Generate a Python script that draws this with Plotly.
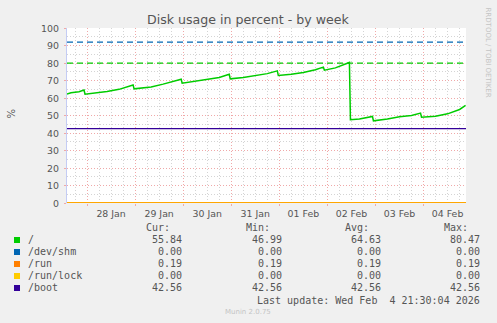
import plotly.graph_objects as go

# ---------------- data ----------------
root_times = [
    "2026-01-27 14:00", "2026-01-27 16:00", "2026-01-27 20:00", "2026-01-27 22:30", "2026-01-27 23:00",
    "2026-01-28 04:00", "2026-01-28 10:00", "2026-01-28 16:00", "2026-01-28 20:00", "2026-01-28 23:00",
    "2026-01-28 23:30", "2026-01-29 02:00", "2026-01-29 08:00", "2026-01-29 14:00", "2026-01-29 20:00",
    "2026-01-29 23:00", "2026-01-29 23:30", "2026-01-30 06:00", "2026-01-30 12:00", "2026-01-30 18:00",
    "2026-01-30 23:00", "2026-01-30 23:30", "2026-01-31 06:00", "2026-01-31 12:00", "2026-01-31 18:00",
    "2026-01-31 23:00", "2026-01-31 23:30", "2026-02-01 06:00", "2026-02-01 12:00", "2026-02-01 18:00",
    "2026-02-01 22:00", "2026-02-01 22:30", "2026-02-02 04:00", "2026-02-02 11:00", "2026-02-02 11:30",
    "2026-02-02 16:00", "2026-02-02 22:30", "2026-02-02 23:00", "2026-02-03 06:00", "2026-02-03 12:00",
    "2026-02-03 18:00", "2026-02-03 22:30", "2026-02-03 23:00", "2026-02-04 06:00", "2026-02-04 12:00",
    "2026-02-04 18:00", "2026-02-04 21:00",
]
root_values = [
    62.3, 63.0, 63.6, 64.6, 62.2,
    62.8, 63.8, 65.0, 66.6, 67.5,
    65.3, 65.7, 66.4, 68.0, 69.8,
    70.8, 68.5, 69.7, 70.8, 71.8,
    73.6, 71.0, 71.8, 73.0, 74.0,
    75.6, 72.9, 73.6, 74.6, 76.2,
    77.7, 76.0, 77.3, 80.4, 47.6,
    48.0, 49.5, 47.0, 48.0, 49.3,
    50.0, 51.4, 49.1, 49.6, 51.0,
    53.5, 55.8,
]
flat_times = ["2026-01-27 14:00", "2026-02-04 21:12"]
shm_values = [0.00, 0.00]
run_values = [0.19, 0.19]
runlock_values = [0.00, 0.00]
boot_values = [42.56, 42.56]

series_names = ["/", "/dev/shm", "/run", "/run/lock", "/boot"]
series_colors = ["#00CC00", "#0066B3", "#FF8000", "#FFCC00", "#330099"]
cur_vals = [55.84, 0.00, 0.19, 0.00, 42.56]
min_vals = [46.99, 0.00, 0.19, 0.00, 42.56]
avg_vals = [64.63, 0.00, 0.19, 0.00, 42.56]
max_vals = [80.47, 0.00, 0.19, 0.00, 42.56]

warn_values = [80, 92]
warn_colors = ["#00CC00", "#0066B3"]

y_ticks = [0, 10, 20, 30, 40, 50, 60, 70, 80, 90, 100]
x_range = ["2026-01-27 14:00", "2026-02-04 21:12"]

title_text = "Disk usage in percent - by week"
last_update = "Last update: Wed Feb  4 21:30:04 2026"

# ---------------- layout geometry ----------------
W, H = 497, 323
L, R, T, B = 67, 466, 28, 203
PW, PH = R - L, B - T


def px(x):
    return (x - L) / PW


def py(y):
    return (B - y) / PH


TXT = "#555555"
MONO = "DejaVu Sans Mono"
SANS = "DejaVu Sans"

fig = go.Figure()

all_series = [
    (root_times, root_values),
    (flat_times, shm_values),
    (flat_times, run_values),
    (flat_times, runlock_values),
    (flat_times, boot_values),
]
widths = [1.5, 1.2, 1.2, 1.2, 1.1]
for (t, v), name, col, w in zip(all_series, series_names, series_colors, widths):
    fig.add_trace(go.Scatter(x=t, y=v, mode="lines", name=name,
                             line=dict(color=col, width=w),
                             showlegend=False, hoverinfo="skip"))

for val, col in zip(warn_values, warn_colors):
    fig.add_hline(y=val, line=dict(color=col, width=1.4, dash="6px,4px"), layer="above")

shapes = []
ac = "#c4ccf4"
shapes.append(dict(type="path", xref="paper", yref="paper",
                   path=f"M {px(64)},{py(28)} L {px(70)},{py(28)} L {px(67)},{py(21.5)} Z",
                   fillcolor=ac, line=dict(width=0)))
shapes.append(dict(type="path", xref="paper", yref="paper",
                   path=f"M {px(467)},{py(200)} L {px(467)},{py(206)} L {px(473)},{py(203)} Z",
                   fillcolor=ac, line=dict(width=0)))

annotations = []
# y tick labels (as text placed on the y scale)
for v in y_ticks:
    annotations.append(dict(text=str(v), x=px(60.5), y=v, xref="paper", yref="y",
                            showarrow=False, xanchor="right", yanchor="middle",
                            font=dict(family=SANS, size=9.4, color=TXT)))
annotations.append(dict(text=title_text, x=px(248.5), y=py(19), xref="paper", yref="paper",
                        showarrow=False, xanchor="center", yanchor="middle",
                        font=dict(family=SANS, size=12.6, color=TXT)))
annotations.append(dict(text="%", x=px(10.5), y=py(114), xref="paper", yref="paper",
                        showarrow=False, textangle=-90, xanchor="center", yanchor="middle",
                        font=dict(family=SANS, size=10, color=TXT)))
annotations.append(dict(text="RRDTOOL / TOBI OETIKER", x=px(487.5), y=py(53), xref="paper", yref="paper",
                        showarrow=False, textangle=90, xanchor="center", yanchor="middle",
                        font=dict(family=SANS, size=7, color="#c4c4c4")))

header_y = 227.5
headers = ["Cur:", "Min:", "Avg:", "Max:"]
header_x = [172.3, 271.7, 371.0, 470.0]
value_x = [184.3, 284.3, 383.3, 482.3]
for h, hx in zip(headers, header_x):
    annotations.append(dict(text=h, x=px(hx), y=py(header_y), xref="paper", yref="paper",
                            showarrow=False, xanchor="right", yanchor="middle",
                            font=dict(family=MONO, size=10, color=TXT)))
row_y0 = 239.7
for i, name in enumerate(series_names):
    ry = row_y0 + 12 * i
    shapes.append(dict(type="rect", xref="paper", yref="paper",
                       x0=px(14), x1=px(20), y0=py(ry + 3.3), y1=py(ry - 2.7),
                       fillcolor=series_colors[i], line=dict(width=0)))
    annotations.append(dict(text=name, x=px(26), y=py(ry), xref="paper", yref="paper",
                            showarrow=False, xanchor="left", yanchor="middle",
                            font=dict(family=MONO, size=10, color=TXT)))
    for vals, vx in zip([cur_vals, min_vals, avg_vals, max_vals], value_x):
        annotations.append(dict(text=f"{vals[i]:.2f}", x=px(vx), y=py(ry), xref="paper", yref="paper",
                                showarrow=False, xanchor="right", yanchor="middle",
                                font=dict(family=MONO, size=10, color=TXT)))
annotations.append(dict(text=last_update.replace(" ", "&nbsp;"), x=px(482.3), y=py(300.3), xref="paper", yref="paper",
                        showarrow=False, xanchor="right", yanchor="middle",
                        font=dict(family=MONO, size=10, color=TXT)))
annotations.append(dict(text="Munin 2.0.75", x=px(223), y=py(311.7), xref="paper", yref="paper",
                        showarrow=False, xanchor="left", yanchor="middle",
                        font=dict(family=SANS, size=7, color="#c4c4c4")))

major_grid = "#f0a8a8"
minor_grid = "#d4d4d4"

fig.update_layout(
    width=W, height=H,
    margin=dict(l=L, r=W - R, t=T, b=H - B, pad=0),
    paper_bgcolor="#F0F0F0",
    plot_bgcolor="#FFFFFF",
    showlegend=False,
    shapes=shapes,
    annotations=annotations,
    xaxis=dict(
        type="date", range=x_range,
        tick0="2026-01-28 00:00", dtick=86400000,
        tickformat="%d %b", ticklabelmode="period",
        showgrid=True, gridcolor=major_grid, griddash="1px,2px", gridwidth=1,
        minor=dict(dtick=6 * 3600000, showgrid=True, gridcolor=minor_grid, griddash="1px,2px",
                   gridwidth=1, ticks=""),
        ticks="outside", ticklen=2, tickcolor=major_grid,
        tickfont=dict(family=SANS, size=9.4, color=TXT),
        showline=False, zeroline=False,
    ),
    yaxis=dict(
        range=[0, 100.1], tickmode="array", tickvals=y_ticks,
        showticklabels=False,
        showgrid=True, gridcolor=major_grid, griddash="1px,2px", gridwidth=1,
        minor=dict(dtick=5, showgrid=True, gridcolor=minor_grid, griddash="1px,2px", gridwidth=1),
        ticks="outside", ticklen=2, tickcolor=major_grid,
        showline=True, linecolor=ac, linewidth=1,
        zeroline=False,
    ),
)

fig.write_html("out.html")
